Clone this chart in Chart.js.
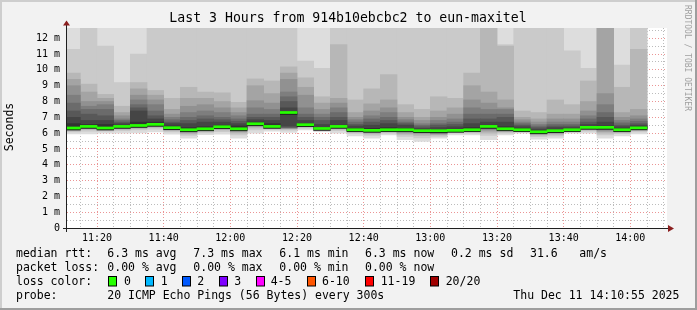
<!DOCTYPE html>
<html><head><meta charset="utf-8">
<script src="https://cdn.jsdelivr.net/npm/chart.js@4"></script>
<style>html,body{margin:0;padding:0;background:#f2f2f2;}#c{display:block;}</style>
</head><body>
<canvas id="c" width="697" height="310" style="width:697px;height:310px"></canvas>
<script>
// ---- data ----
const binEnds = ['11:15','11:20','11:25','11:30','11:35','11:40','11:45','11:50','11:55','12:00','12:05','12:10','12:15','12:20','12:25','12:30','12:35','12:40','12:45','12:50','12:55','13:00','13:05','13:10','13:15','13:20','13:25','13:30','13:35','13:40','13:45','13:50','13:55','14:00','14:05'];
const median = [6.32,6.42,6.32,6.42,6.48,6.55,6.34,6.21,6.27,6.40,6.27,6.59,6.42,7.30,6.53,6.29,6.42,6.21,6.17,6.21,6.21,6.15,6.15,6.17,6.21,6.42,6.27,6.21,6.08,6.15,6.21,6.36,6.36,6.21,6.33];
const ping01 = [5.95,5.95,6.0,6.0,6.02,6.08,5.93,5.68,5.9,5.93,5.68,6.0,6.12,6.05,6.2,6.1,6.0,5.83,5.68,5.89,5.58,5.47,5.68,5.89,5.89,5.58,5.89,6.0,5.62,5.68,6.0,6.0,5.68,5.83,5.95];
const ping02 = [6.08,6.12,6.12,6.15,6.2,6.25,6.08,5.85,6.02,6.1,5.88,6.2,6.22,6.18,6.3,6.17,6.15,5.98,5.85,6.0,5.8,5.7,5.8,6.0,6.0,5.85,6.0,6.08,5.78,5.83,6.07,6.12,5.88,5.96,6.08];
const ping03 = [6.14,6.22,6.17,6.23,6.28,6.35,6.15,5.95,6.1,6.2,6.0,6.32,6.28,6.25,6.37,6.2,6.24,6.06,5.95,6.07,5.92,5.85,5.88,6.06,6.07,6.0,6.07,6.12,5.87,5.92,6.11,6.19,6.0,6.04,6.15];
const ping04 = [6.18,6.28,6.21,6.28,6.34,6.41,6.2,6.02,6.15,6.26,6.08,6.4,6.32,6.29,6.42,6.22,6.3,6.11,6.02,6.11,6.0,5.95,5.93,6.1,6.11,6.12,6.12,6.14,5.93,5.98,6.14,6.24,6.1,6.09,6.2];
const ping05 = [6.21,6.31,6.24,6.32,6.38,6.45,6.24,6.07,6.18,6.3,6.13,6.45,6.35,6.31,6.45,6.24,6.33,6.14,6.06,6.14,6.06,6.01,5.96,6.12,6.14,6.2,6.16,6.16,5.97,6.02,6.16,6.27,6.17,6.12,6.23];
const ping06 = [6.24,6.34,6.26,6.35,6.41,6.48,6.27,6.11,6.21,6.33,6.17,6.49,6.37,6.33,6.47,6.25,6.36,6.16,6.09,6.16,6.1,6.05,5.99,6.13,6.16,6.26,6.19,6.17,6.0,6.05,6.17,6.3,6.22,6.14,6.26];
const ping07 = [6.26,6.36,6.28,6.37,6.43,6.5,6.29,6.14,6.23,6.35,6.2,6.52,6.39,6.35,6.49,6.26,6.38,6.17,6.11,6.17,6.13,6.08,6.02,6.14,6.17,6.31,6.21,6.18,6.02,6.08,6.18,6.32,6.26,6.16,6.28];
const ping08 = [6.28,6.38,6.29,6.39,6.45,6.52,6.31,6.17,6.25,6.37,6.23,6.55,6.4,6.38,6.5,6.27,6.39,6.18,6.13,6.18,6.16,6.1,6.05,6.15,6.18,6.35,6.23,6.19,6.04,6.1,6.19,6.33,6.3,6.18,6.3];
const ping09 = [6.3,6.4,6.3,6.4,6.46,6.53,6.32,6.19,6.26,6.38,6.25,6.57,6.41,6.45,6.51,6.28,6.4,6.19,6.15,6.19,6.18,6.12,6.09,6.16,6.19,6.38,6.25,6.2,6.06,6.12,6.2,6.34,6.33,6.19,6.31];
const ping10 = [6.31,6.41,6.31,6.41,6.47,6.54,6.33,6.2,6.265,6.39,6.26,6.58,6.415,7.22,6.52,6.285,6.41,6.2,6.16,6.2,6.2,6.14,6.13,6.165,6.2,6.41,6.26,6.205,6.07,6.14,6.205,6.35,6.35,6.2,6.32];
const ping11 = [6.6,6.55,6.55,6.5,6.7,6.7,6.45,6.35,6.4,6.5,6.45,6.7,6.6,7.36,6.6,6.35,6.5,6.3,6.3,6.35,6.3,6.2,6.2,6.25,6.35,6.5,6.4,6.3,6.15,6.2,6.25,6.4,6.45,6.3,6.4];
const ping12 = [7.0,6.8,6.8,6.6,7.4,6.9,6.6,6.6,6.7,6.7,6.6,6.85,6.8,7.6,6.8,6.55,6.8,6.45,6.5,6.6,6.5,6.3,6.35,6.4,6.6,6.7,6.7,6.4,6.25,6.35,6.35,6.55,6.7,6.4,6.5];
const ping13 = [7.4,7.2,7.1,6.7,7.6,7.1,6.7,6.8,6.9,6.85,6.75,7.0,7.0,8.0,7.0,6.8,7.0,6.55,6.7,6.8,6.6,6.4,6.5,6.55,6.9,6.9,7.0,6.5,6.35,6.45,6.45,6.7,7.0,6.5,6.6];
const ping14 = [7.9,7.5,7.5,6.8,7.8,7.4,6.85,7.0,7.1,7.0,6.9,7.2,7.2,8.3,7.2,7.0,7.3,6.7,6.9,7.0,6.7,6.5,6.6,6.7,7.2,7.2,7.2,6.6,6.45,6.55,6.55,6.9,7.3,6.65,6.75];
const ping15 = [8.4,7.7,7.8,6.9,8.1,7.8,7.0,7.3,7.4,7.3,7.1,7.6,7.5,8.6,7.6,7.2,7.6,6.85,7.1,7.3,6.85,6.6,6.8,6.9,7.6,7.5,7.5,6.7,6.55,6.7,6.7,7.1,7.8,6.8,6.9];
const ping16 = [9.0,8.0,8.0,7.1,8.4,8.1,7.2,7.7,7.8,7.6,7.3,8.05,7.9,9.4,8.4,7.5,7.9,7.0,7.4,7.6,7.0,6.8,7.0,7.2,8.1,7.9,7.6,6.85,6.7,6.9,6.9,7.4,8.5,7.0,7.1];
const ping17 = [9.4,8.6,8.2,7.3,8.8,8.4,7.5,8.2,8.2,8.0,7.6,9.0,8.5,9.8,8.9,7.9,8.2,7.3,7.85,8.1,7.3,7.0,7.4,7.6,9.0,8.6,8.1,7.0,6.9,7.2,7.2,8.0,13.0,7.3,7.5];
const ping18 = [9.8,9.1,8.45,7.7,9.2,8.7,8.2,8.9,8.6,8.55,7.95,9.43,9.3,10.2,9.5,8.3,11.6,8.1,8.8,9.7,7.8,7.5,8.3,8.2,9.8,13.0,11.5,7.4,7.3,8.1,7.8,9.3,13.5,8.9,11.3];
const ping19 = [11.3,13.0,11.5,9.2,11.0,13.0,13.0,13.0,13.0,13.0,13.0,13.0,13.0,13.0,10.55,10.1,13.0,13.0,13.0,13.0,13.0,13.0,13.0,13.0,13.0,13.5,11.6,13.0,13.0,13.0,11.2,10.1,13.8,10.3,13.0];
const ping20 = [13.5,14.0,13.5,13.5,13.5,14.0,14.0,14.0,14.0,14.0,14.0,14.0,14.0,14.0,13.5,13.5,14.0,14.0,14.0,14.0,14.0,14.0,14.0,14.0,14.0,14.0,13.5,14.0,14.0,14.0,13.5,13.5,14.0,13.5,14.0];

const xTickLabels = ['11:20','11:40','12:00','12:20','12:40','13:00','13:20','13:40','14:00'];
const yTickLabels = ['0','1 m','2 m','3 m','4 m','5 m','6 m','7 m','8 m','9 m','10 m','11 m','12 m'];
const lossLabels = ['0','1','2','3','4-5','6-10','11-19','20/20'];
const lossColors = ['#26ff00','#00b8ff','#0059ff','#7e00ff','#ff00ff','#ff5500','#ff0000','#a00000'];
const bandShades = ['#dddddd','#cacaca','#b7b7b7','#a4a4a4','#919191','#7e7e7e','#6b6b6b','#585858','#454545','#323232'];

// ---- build ----
const toMin = s => { const p = s.split(':').map(Number); return p[0]*60 + p[1]; };
const centers = binEnds.map(s => toMin(s) - 2.5);
const pings = [ping01,ping02,ping03,ping04,ping05,ping06,ping07,ping08,ping09,ping10,ping11,ping12,ping13,ping14,ping15,ping16,ping17,ping18,ping19,ping20];

const datasets = [];
datasets.push({label:'median', data: centers.map((x,i)=>({x, y:[median[i]-0.06, median[i]+0.07]})), backgroundColor: lossColors[0], order: 0});
datasets.push({label:'medianLine', data: centers.map((x,i)=>({x, y:[median[i]-0.12, median[i]-0.06]})), backgroundColor: '#202020', order: 1});
for (let b = 9; b >= 0; b--) {
  datasets.push({label:'band'+(b+1), data: centers.map((x,i)=>({x, y:[pings[b][i], pings[19-b][i]]})), backgroundColor: bandShades[b], order: 2 + (9-b)});
}
datasets.forEach(d => { d.clip = 0; d.grouped = false; d.barPercentage = 1; d.categoryPercentage = 1; d.borderWidth = 0; });

const MAJOR = 'rgba(222,79,79,0.6)';
const MINOR = 'rgba(143,143,143,0.6)';
const MONO = "'DejaVu Sans Mono'";

const deco = {
  id: 'deco',
  beforeDraw(chart) {
    const c = chart.ctx, a = chart.chartArea;
    c.save();
    c.fillStyle = '#f2f2f2'; c.fillRect(0,0,697,310);
    c.fillStyle = '#cecece'; c.fillRect(0,0,697,2); c.fillRect(0,0,2,310);
    c.fillStyle = '#9e9e9e'; c.fillRect(0,308,697,2); c.fillRect(695,0,2,310);
    c.fillStyle = '#ffffff'; c.fillRect(a.left, a.top, a.right-a.left, a.bottom-a.top);
    c.restore();
  },
  afterDraw(chart) {
    const c = chart.ctx, a = chart.chartArea;
    c.save();
    // axes
    c.strokeStyle = '#1f1f1f'; c.lineWidth = 1;
    c.beginPath(); c.moveTo(63, 228.5); c.lineTo(669, 228.5); c.stroke();
    c.beginPath(); c.moveTo(66.5, 232); c.lineTo(66.5, 24); c.stroke();
    c.fillStyle = '#8b1f1f';
    c.beginPath(); c.moveTo(668,225); c.lineTo(674,228.5); c.lineTo(668,232); c.closePath(); c.fill();
    c.beginPath(); c.moveTo(63,25.5); c.lineTo(66.5,20.5); c.lineTo(70,25.5); c.closePath(); c.fill();
    // title
    c.fillStyle = '#000'; c.textBaseline = 'middle';
    c.font = "13.2px " + MONO; c.textAlign = 'center';
    c.fillText('Last 3 Hours from 914b10ebcbc2 to eun-maxitel', 348, 19);
    // y-axis title
    c.font = "11.5px " + MONO;
    c.save(); c.translate(10.5, 127); c.rotate(-Math.PI/2); c.fillText('Seconds', 0, 0); c.restore();
    // watermark
    c.save(); c.fillStyle = '#a0a0a0'; c.font = "8px " + MONO; c.textAlign = 'left';
    c.translate(687.5, 5); c.rotate(Math.PI/2); c.fillText('RRDTOOL / TOBI OETIKER', 0, 0); c.restore();
    // legend
    c.textAlign = 'left'; c.font = "11.5px " + MONO; c.fillStyle = '#000';
    const rows = [
      [254.5, [[16,'median rtt:'],[107.3,'6.3 ms avg'],[193.3,'7.3 ms max'],[279.3,'6.1 ms min'],[365,'6.3 ms now'],[451,'0.2 ms sd'],[530,'31.6'],[579.3,'am/s']]],
      [268.5, [[16,'packet loss:'],[107.3,'0.00 % avg'],[193.3,'0.00 % max'],[279.3,'0.00 % min'],[365,'0.00 % now']]],
      [282.5, [[16,'loss color:']]],
      [296.5, [[16,'probe:'],[107.3,'20 ICMP Echo Pings (56 Bytes) every 300s'],[513.3,'Thu Dec 11 14:10:55 2025']]]
    ];
    rows.forEach(([y, segs]) => segs.forEach(([x, t]) => c.fillText(t, x, y)));
    const boxX = [108.5,145.5,182.5,219.5,256.5,307.5,365.5,430.5];
    const labX = [124,160.7,197.3,234.3,270.7,322,380.7,445.7];
    lossLabels.forEach((l, i) => {
      c.fillStyle = lossColors[i]; c.fillRect(boxX[i], 277, 8, 9);
      c.strokeStyle = '#000'; c.lineWidth = 1; c.strokeRect(boxX[i], 276.5, 8, 9.5);
      c.fillStyle = '#000'; c.fillText(l, labX[i], 282.5);
    });
    c.restore();
  }
};

new Chart(document.getElementById('c'), {
  type: 'bar',
  data: { datasets },
  plugins: [deco],
  options: {
    responsive: false, animation: false, devicePixelRatio: 1,
    layout: { padding: { left: 0, top: 28, right: 30, bottom: 0 } },
    plugins: { legend: { display: false }, tooltip: { enabled: false }, title: { display: false } },
    scales: {
      x: {
        type: 'linear', min: 671, max: 851, offset: false, z: 1,
        afterBuildTicks: s => { const t = []; for (let v = 675; v <= 850; v += 5) t.push({value: v}); s.ticks = t; },
        afterFit: s => { s.height = 82; },
        ticks: { autoSkip: false, maxRotation: 0, padding: 4, color: '#000', font: { family: 'DejaVu Sans Mono', size: 10 },
          callback: v => { const l = xTickLabels.find(s => toMin(s) === v); return l || ''; } },
        grid: { offset: false, drawTicks: false, lineWidth: 1, color: ctx => (ctx.tick && ctx.tick.value % 20 === 0) ? MAJOR : MINOR },
        border: { display: false, dash: [1, 2] }
      },
      y: {
        type: 'linear', min: 0, max: 12.65, z: 1,
        afterBuildTicks: s => { const t = []; for (let v = 0; v <= 12.5; v += 0.5) t.push({value: v}); s.ticks = t; },
        afterFit: s => { s.width = 67; },
        ticks: { autoSkip: false, padding: 7, color: '#000', font: { family: 'DejaVu Sans Mono', size: 10 },
          callback: v => Number.isInteger(v) ? yTickLabels[v] : '' },
        grid: { drawTicks: false, lineWidth: 1, color: ctx => (ctx.tick && Number.isInteger(ctx.tick.value)) ? MAJOR : MINOR },
        border: { display: false, dash: [1, 2] }
      }
    }
  }
});
</script>
</body></html>
